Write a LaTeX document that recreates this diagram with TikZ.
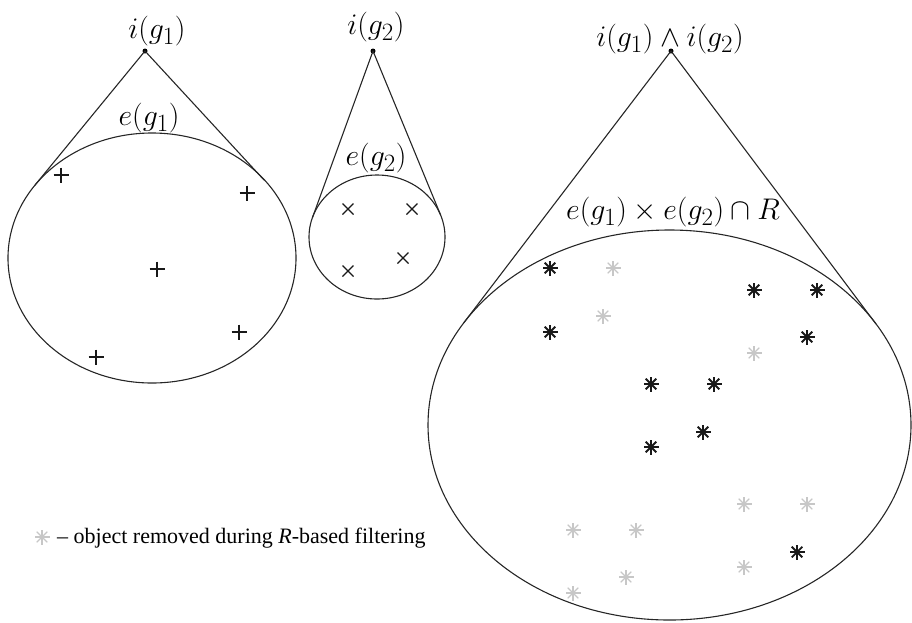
\documentclass[tikz,border=0pt]{standalone}
\usepackage{graphicx}
\usepackage{fontspec}
\newfontfamily\legendfont{Liberation Serif}
\newcommand\lblmath[1]{\scalebox{1.2}{\fontsize{24.88}{28}\selectfont$#1$}}
\begin{document}
\begin{tikzpicture}[x=1pt,y=-1pt,
  outline/.style={line width=1.1pt, black!85},
  lbl/.style={inner sep=0pt},
  apexdot/.style={circle, fill=black, inner sep=0pt, minimum size=5pt},
  plusmark/.pic={\draw[line width=1.3pt,black!90] (-7.5,0)--(7.5,0) (0,-7.5)--(0,7.5);},
  crossmark/.pic={\draw[line width=1.2pt,black!90] (-5.5,-5.5)--(5.5,5.5) (-5.5,5.5)--(5.5,-5.5);},
  keptmark/.pic={\foreach \a in {0,45,90,135}{\draw[line width=1.8pt,black!90] (\a:7.5)--(\a+180:7.5);}},
  removedmark/.pic={\foreach \a in {0,45,90,135}{\draw[line width=1.1pt,black!22] (\a:7.5)--(\a+180:7.5);}},
]
\useasboundingbox (0,0) rectangle (912,622);

% ---------- first set ----------
\coordinate (c1) at (152,258);
\node[apexdot] (a1) at (145,51) {};
\coordinate (t1l) at (34.6,185.6);
\coordinate (t1r) at (264,180);
\draw[outline] (c1) ellipse [x radius=144, y radius=125];
\draw[outline] (t1l) -- (a1.center) -- (t1r);
\node[lbl] (li1) at (157,31) {\lblmath{i(g_1)}};
\node[lbl] (le1) at (149,118) {\lblmath{e(g_1)}};
\foreach \p in {(61,175),(247,193),(157,269),(239,332),(96,357)} \pic at \p {plusmark};

% ---------- second set ----------
\coordinate (c2) at (377,237);
\node[apexdot] (a2) at (373,51) {};
\coordinate (t2l) at (312.5,217.5);
\coordinate (t2r) at (440.7,215.2);
\draw[outline] (c2) ellipse [x radius=68, y radius=62];
\draw[outline] (t2l) -- (a2.center) -- (t2r);
\node[lbl] (li2) at (376,27) {\lblmath{i(g_2)}};
\node[lbl] (le2) at (376,158) {\lblmath{e(g_2)}};
\foreach \p in {(348,209),(412,209),(403,258),(348,271)} \pic at \p {crossmark};

% ---------- joined set ----------
\coordinate (c3) at (669.5,425);
\node[apexdot] (a3) at (671,51) {};
\coordinate (t3l) at (463.8,322.8);
\coordinate (t3r) at (876,324);
\draw[outline] (c3) ellipse [x radius=241.5, y radius=195];
\draw[outline] (t3l) -- (a3.center) -- (t3r);
\node[lbl] (li3) at (670,39) {\lblmath{i(g_1)\wedge i(g_2)}};
\node[lbl] (le3) at (673,212) {\lblmath{e(g_1)\times e(g_2)\cap R}};
\foreach \p in {(550,268),(754,290),(817,290),(550,332),(807,337),(651,384),(714,384),(703,432),(651,447),(797,552)} \pic at \p {keptmark};
\foreach \p in {(613,268),(603,316),(754,353),(744,504),(807,504),(573,530),(636,530),(744,567),(626,577),(573,593)} \pic at \p {removedmark};

% ---------- legend ----------
\pic at (42,537) {removedmark};
\node[inner sep=0pt, anchor=west, font=\legendfont\fontsize{22}{25}\selectfont] (leg) at (57,538) {– object removed during \textit{R}-based filtering};
\end{tikzpicture}
\end{document}
